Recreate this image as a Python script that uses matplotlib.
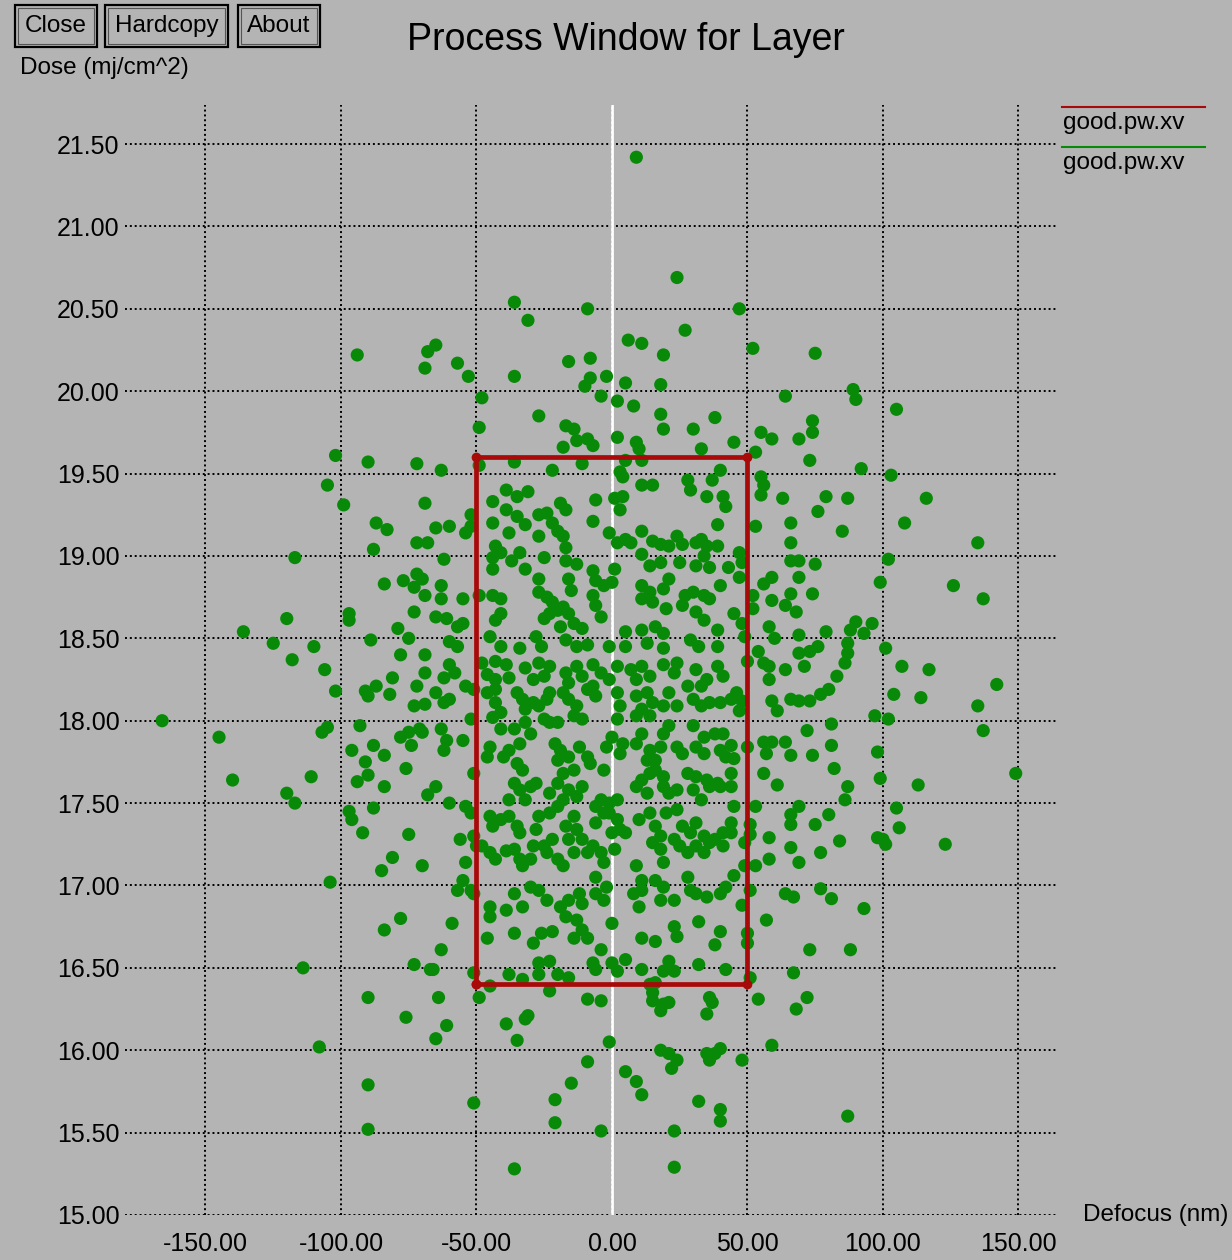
import numpy as np
import matplotlib
matplotlib.use("Agg")
import matplotlib.pyplot as plt
from matplotlib.patches import Rectangle
from matplotlib.lines import Line2D

plt.rcParams['font.family'] = ['Liberation Sans', 'DejaVu Sans']

# ----------------------------------------------------------------------
#  Data (defocus nm, dose mj/cm^2)
# ----------------------------------------------------------------------
title = "Process Window for Layer"
x_label = "Defocus (nm)"
y_label = "Dose (mj/cm^2)"
buttons = ["Close", "Hardcopy", "About"]
series_names = ["good.pw.xv", "good.pw.xv"]
x_ticks = [-150, -100, -50, 0, 50, 100, 150]
y_ticks = [15.0, 15.5, 16.0, 16.5, 17.0, 17.5, 18.0, 18.5, 19.0, 19.5, 20.0, 20.5, 21.0, 21.5]
window_defocus = [-50, 50, 50, -50, -50]
window_dose = [16.4, 16.4, 19.6, 19.6, 16.4]

top_pts = [(-94, 20.22), (-68, 20.24), (-69, 20.14), (9, 21.42), (24, 20.69), (-36, 20.54),
           (-31, 20.43), (-9, 20.50), (27, 20.37), (6, 20.31), (11, 20.29), (19, 20.22),
           (-16, 20.18), (-8, 20.20), (-8, 20.08), (-10, 20.03), (-2, 20.09), (5, 20.05),
           (18, 20.04), (-57, 20.17), (-53, 20.09), (-36, 20.09), (-65, 20.28), (-48, 19.96),
           (-4, 19.97), (2, 19.94), (47, 20.50), (52, 20.26), (75, 20.23), (64, 19.97),
           (89, 20.01), (90, 19.95)]

upper_left = [(-102, 19.61), (-90, 19.57), (-72, 19.56), (-105, 19.43), (-99, 19.31), (-69, 19.32),
              (-87, 19.20), (-83, 19.16), (-72, 19.08), (-68, 19.08), (-88, 19.04), (-117, 18.99),
              (-72, 18.89), (-70, 18.86), (-77, 18.85), (-73, 18.81), (-69, 18.76), (-84, 18.83),
              (-97, 18.65), (-97, 18.61), (-73, 18.66), (-79, 18.56), (-75, 18.50), (-89, 18.49),
              (-120, 18.62), (-136, 18.54), (-125, 18.47), (-110, 18.45), (-118, 18.37),
              (-78, 18.40), (-69, 18.40)]

upper_mid = [(-49, 19.78), (-27, 19.85), (-17, 19.79), (-14, 19.77), (-13, 19.70), (-9, 19.71),
             (-7, 19.67), (-18, 19.66), (8, 19.91), (2, 19.72), (18, 19.86), (19, 19.77),
             (30, 19.77), (38, 19.84), (9, 19.69), (10, 19.65), (11, 19.58), (33, 19.65),
             (-36, 19.57), (-22, 19.52), (-11, 19.56), (5, 19.58), (3, 19.51), (4, 19.48),
             (-63, 19.52), (-49, 19.55), (11, 19.43), (15, 19.43), (28, 19.46), (29, 19.40),
             (40, 19.52), (37, 19.46), (35, 19.36), (41, 19.36), (42, 19.30), (-39, 19.40),
             (-35, 19.36), (-31, 19.39), (-44, 19.33), (-6, 19.34), (1, 19.35), (3, 19.28),
             (4, 19.36), (-39, 19.28), (-35, 19.24), (-32, 19.19), (-27, 19.25), (-24, 19.26),
             (-19, 19.32), (-17, 19.28), (-22, 19.20), (-20, 19.15), (-18, 19.12), (-7, 19.21),
             (-44, 19.20), (-52, 19.25), (-54, 19.14), (-52, 19.18), (-60, 19.18), (-65, 19.17),
             (-38, 19.14), (-27, 19.12), (-1, 19.14), (2, 19.08), (5, 19.10), (7, 19.08),
             (11, 19.15), (15, 19.09), (18, 19.07), (21, 19.06), (24, 19.12), (26, 19.07),
             (31, 19.08), (33, 19.10), (35, 19.06), (39, 19.19), (39, 19.06), (-43, 19.06),
             (-41, 19.02), (-44, 18.99), (-44, 18.92), (-34, 19.02), (-37, 18.97), (-25, 18.99),
             (-17, 19.05), (-17, 18.97), (-13, 18.95), (-7, 18.91), (1, 18.92), (-32, 18.92),
             (-27, 18.86), (-62, 18.98), (11, 19.01), (14, 18.94), (18, 18.96), (25, 18.96),
             (34, 19.00), (31, 18.94), (36, 18.93), (43, 18.93), (40, 18.82), (-16, 18.86),
             (-15, 18.79), (-6, 18.85), (-3, 18.82), (0, 18.84), (-7, 18.76), (-6, 18.70),
             (-4, 18.63), (11, 18.82), (14, 18.78), (11, 18.74), (15, 18.72), (21, 18.86),
             (19, 18.80), (27, 18.76), (30, 18.78), (34, 18.76), (36, 18.74), (26, 18.70),
             (31, 18.66), (34, 18.61), (20, 18.68), (-63, 18.82), (-63, 18.74), (-55, 18.74),
             (-49, 18.76), (-44, 18.76), (-41, 18.74), (-27, 18.78), (-24, 18.75), (-22, 18.72),
             (-20, 18.67), (-23, 18.65), (-18, 18.69), (-16, 18.65), (-41, 18.65), (-43, 18.61),
             (-65, 18.63), (-61, 18.62), (-57, 18.57), (-55, 18.59), (-25, 18.62), (-19, 18.57),
             (-14, 18.59), (-11, 18.56), (5, 18.54), (5, 18.45), (11, 18.55), (16, 18.57),
             (19, 18.53), (39, 18.55), (-45, 18.51), (-41, 18.45), (-34, 18.44), (-28, 18.51),
             (-26, 18.45), (-17, 18.49), (-13, 18.45), (-9, 18.46), (-1, 18.45), (13, 18.47),
             (19, 18.44), (29, 18.49), (32, 18.45), (39, 18.45), (-60, 18.48), (-57, 18.45)]

upper_right = [(105, 19.89), (74, 19.82), (74, 19.75), (55, 19.75), (59, 19.71), (69, 19.71),
               (45, 19.69), (53, 19.63), (73, 19.58), (92, 19.53), (103, 19.49), (55, 19.48),
               (56, 19.43), (55, 19.37), (63, 19.35), (79, 19.36), (87, 19.35), (76, 19.27),
               (116, 19.35), (108, 19.20), (66, 19.20), (85, 19.15), (53, 19.18), (66, 19.08),
               (135, 19.08), (47, 19.02), (48, 18.96), (47, 18.87), (66, 18.97), (69, 18.97),
               (75, 18.95), (102, 18.98), (59, 18.87), (56, 18.83), (69, 18.87), (99, 18.84),
               (126, 18.82), (137, 18.74), (52, 18.76), (52, 18.68), (59, 18.73), (66, 18.77),
               (64, 18.70), (68, 18.66), (74, 18.77), (45, 18.65), (48, 18.59), (49, 18.51),
               (58, 18.57), (60, 18.50), (69, 18.52), (79, 18.54), (88, 18.55), (90, 18.60),
               (93, 18.53), (96, 18.59), (87, 18.47), (87, 18.41), (101, 18.44), (69, 18.41),
               (73, 18.42), (76, 18.45), (54, 18.42)]

middle_left = [(-166, 18.00), (-145, 17.90), (-140, 17.64), (-120, 17.56), (-117, 17.50),
               (-111, 17.66), (-107, 17.93), (-105, 17.96), (-104, 17.02), (-106, 18.31),
               (-102, 18.18), (-91, 18.18), (-87, 18.21), (-90, 18.15), (-81, 18.26), (-82, 18.16),
               (-72, 18.21), (-73, 18.09), (-69, 18.10), (-69, 18.29), (-93, 17.97), (-71, 17.95),
               (-75, 17.93), (-78, 17.90), (-74, 17.85), (-70, 17.93), (-96, 17.82), (-88, 17.85),
               (-84, 17.79), (-91, 17.75), (-90, 17.67), (-94, 17.63), (-76, 17.71), (-84, 17.60),
               (-68, 17.55), (-97, 17.45), (-96, 17.40), (-88, 17.47), (-92, 17.32), (-75, 17.31),
               (-81, 17.17), (-85, 17.09), (-70, 17.12), (-78, 16.80)]

middle_mid = [(-60, 18.34), (-58, 18.29), (-62, 18.26), (-48, 18.35), (-43, 18.36), (-39, 18.34),
              (-46, 18.28), (-43, 18.25), (-38, 18.26), (-32, 18.32), (-27, 18.35), (-23, 18.33),
              (-29, 18.25), (-25, 18.27), (-17, 18.29), (-13, 18.33), (-11, 18.27), (-7, 18.34),
              (-4, 18.29), (-16, 18.23), (2, 18.33), (-1, 18.25), (7, 18.31), (11, 18.33),
              (9, 18.25), (14, 18.27), (19, 18.34), (23, 18.29), (24, 18.35), (31, 18.31),
              (35, 18.25), (33, 18.21), (39, 18.33), (41, 18.27), (-65, 18.17), (-60, 18.13),
              (-62, 18.11), (-54, 18.21), (-51, 18.19), (-46, 18.17), (-43, 18.19), (-43, 18.11),
              (-41, 18.05), (-44, 18.02), (-35, 18.17), (-33, 18.13), (-29, 18.11), (-32, 18.07),
              (-27, 18.09), (-24, 18.13), (-23, 18.17), (-18, 18.17), (-16, 18.13), (-13, 18.09),
              (-14, 18.03), (-11, 18.01), (-9, 18.19), (-7, 18.21), (-6, 18.15), (2, 18.17),
              (3, 18.09), (2, 18.01), (9, 18.15), (13, 18.17), (15, 18.11), (11, 18.07),
              (9, 18.03), (14, 18.03), (19, 18.09), (21, 18.17), (24, 18.09), (30, 18.13),
              (33, 18.09), (36, 18.11), (40, 18.11), (44, 18.13), (28, 18.21), (-52, 18.01),
              (-63, 17.95), (-61, 17.88), (-55, 17.88), (-62, 17.82), (-41, 17.95), (-36, 17.95),
              (-32, 17.99), (-30, 17.92), (-34, 17.86), (-38, 17.82), (-40, 17.78), (-45, 17.84),
              (-46, 17.78), (-20, 17.99), (-23, 17.99), (-25, 18.01), (-21, 17.86), (-19, 17.82),
              (-20, 17.76), (-16, 17.78), (-9, 17.78), (-8, 17.74), (-12, 17.84), (-2, 17.84),
              (0, 17.90), (4, 17.86), (3, 17.80), (9, 17.86), (11, 17.92), (14, 17.82),
              (18, 17.84), (16, 17.76), (13, 17.76), (19, 17.92), (21, 17.97), (24, 17.84),
              (26, 17.80), (30, 17.97), (34, 17.90), (38, 17.92), (41, 17.92), (31, 17.84),
              (34, 17.80), (40, 17.82), (42, 17.78), (-51, 17.68), (-65, 17.60), (-35, 17.74),
              (-33, 17.70), (-36, 17.62), (-34, 17.58), (-30, 17.60), (-32, 17.52), (-38, 17.52),
              (-28, 17.62), (-23, 17.56), (-20, 17.62), (-18, 17.68), (-14, 17.70), (-16, 17.58),
              (-13, 17.54), (-11, 17.60), (-3, 17.70), (-4, 17.52), (-1, 17.50), (2, 17.52),
              (9, 17.60), (11, 17.64), (14, 17.68), (13, 17.56), (16, 17.70), (19, 17.66),
              (19, 17.60), (21, 17.56), (24, 17.58), (28, 17.68), (31, 17.66), (35, 17.64),
              (39, 17.62), (30, 17.58), (33, 17.52), (36, 17.60), (40, 17.60), (44, 17.60),
              (-60, 17.50), (-54, 17.48), (-52, 17.44), (-45, 17.42), (-41, 17.40), (-38, 17.42),
              (-35, 17.36), (-34, 17.32), (-44, 17.36), (-27, 17.42), (-28, 17.34), (-23, 17.44),
              (-20, 17.48), (-18, 17.52), (-17, 17.36), (-14, 17.42), (-13, 17.34), (-16, 17.28),
              (-6, 17.48), (-3, 17.44), (-6, 17.38), (-1, 17.44), (2, 17.40), (3, 17.34),
              (5, 17.32), (0, 17.32), (10, 17.40), (14, 17.44), (16, 17.36), (20, 17.44),
              (24, 17.46), (18, 17.30), (26, 17.36), (29, 17.32), (31, 17.38), (34, 17.30),
              (38, 17.28), (41, 17.32), (44, 17.38), (-56, 17.28), (-51, 17.30), (-50, 17.24),
              (-48, 17.24), (-45, 17.20), (-43, 17.16), (-39, 17.21), (-36, 17.22), (-34, 17.16),
              (-33, 17.12), (-30, 17.16), (-29, 17.24), (-25, 17.24), (-24, 17.20), (-22, 17.28),
              (-20, 17.16), (-18, 17.12), (-14, 17.20), (-11, 17.28), (-9, 17.20), (-7, 17.24),
              (-4, 17.20), (-3, 17.14), (1, 17.22), (9, 17.12), (11, 17.03), (15, 17.26),
              (18, 17.22), (19, 17.14), (23, 17.28), (25, 17.24), (28, 17.20), (31, 17.24),
              (34, 17.20), (36, 17.26), (41, 17.24), (-54, 17.14), (-55, 17.03), (-57, 16.97),
              (-52, 16.97), (-51, 16.95), (-45, 16.87), (-39, 16.85), (-45, 16.81), (-36, 16.95),
              (-33, 16.87), (-30, 16.99), (-27, 16.97), (-24, 16.91), (-19, 16.87), (-16, 16.91),
              (-12, 16.95), (-11, 16.89), (-17, 16.81), (-13, 16.79), (-6, 17.05), (-6, 16.95),
              (-2, 16.99), (-3, 16.91), (8, 16.95), (11, 16.97), (10, 16.87), (16, 17.03),
              (19, 16.99), (18, 16.91), (23, 16.91), (28, 17.05), (29, 16.97), (31, 16.95),
              (35, 16.93), (40, 16.95), (42, 16.99)]

middle_right = [(50, 18.36), (56, 18.35), (58, 18.33), (64, 18.31), (71, 18.33), (86, 18.35),
                (83, 18.27), (58, 18.25), (80, 18.19), (77, 18.16), (66, 18.13), (69, 18.12),
                (73, 18.12), (59, 18.12), (61, 18.06), (46, 18.17), (48, 18.12), (47, 18.06),
                (107, 18.33), (117, 18.31), (104, 18.16), (114, 18.14), (142, 18.22), (135, 18.09),
                (137, 17.94), (97, 18.03), (102, 18.01), (81, 17.98), (72, 17.94), (56, 17.87),
                (59, 17.87), (64, 17.87), (57, 17.80), (66, 17.79), (50, 17.84), (44, 17.85),
                (45, 17.77), (81, 17.85), (74, 17.79), (98, 17.81), (82, 17.71), (56, 17.68),
                (61, 17.61), (99, 17.65), (113, 17.61), (149, 17.68), (87, 17.60), (86, 17.52),
                (44, 17.68), (45, 17.48), (44, 17.32), (53, 17.48), (69, 17.48), (66, 17.43),
                (66, 17.37), (80, 17.43), (75, 17.37), (105, 17.47), (106, 17.35), (51, 17.37),
                (51, 17.31), (49, 17.26), (58, 17.29), (84, 17.27), (98, 17.29), (100, 17.28),
                (101, 17.25), (123, 17.25), (66, 17.23), (77, 17.20), (58, 17.16), (69, 17.14),
                (49, 17.12), (53, 17.12), (45, 17.06), (51, 16.97), (77, 16.98), (64, 16.95),
                (67, 16.93), (81, 16.92), (93, 16.86), (48, 16.88), (57, 16.79)]

lower_left = [(-84, 16.73), (-114, 16.50), (-73, 16.52), (-67, 16.49), (-90, 16.32), (-76, 16.20),
              (-108, 16.02), (-90, 15.79), (-90, 15.52)]

lower_mid = [(-59, 16.77), (-46, 16.68), (-36, 16.71), (-29, 16.65), (-26, 16.71), (-22, 16.72),
             (-14, 16.68), (-11, 16.73), (-9, 16.68), (-4, 16.61), (0, 16.77), (11, 16.68),
             (16, 16.66), (23, 16.75), (24, 16.69), (32, 16.78), (40, 16.72), (38, 16.64),
             (-63, 16.61), (-66, 16.49), (-51, 16.47), (-45, 16.39), (-49, 16.32), (-38, 16.46),
             (-33, 16.43), (-27, 16.53), (-23, 16.54), (-27, 16.46), (-20, 16.46), (-16, 16.44),
             (-23, 16.36), (-7, 16.53), (-6, 16.49), (0, 16.53), (2, 16.48), (5, 16.55),
             (11, 16.49), (19, 16.48), (21, 16.54), (23, 16.48), (32, 16.52), (42, 16.49),
             (14, 16.40), (16, 16.41), (15, 16.35), (15, 16.30), (19, 16.28), (21, 16.29),
             (18, 16.24), (36, 16.32), (37, 16.29), (35, 16.22), (-9, 16.31), (-4, 16.30),
             (-64, 16.32), (-61, 16.15), (-65, 16.07), (-39, 16.16), (-32, 16.19), (-31, 16.21),
             (-35, 16.06), (-1, 16.05), (18, 16.00), (21, 15.98), (24, 15.94), (22, 15.89),
             (36, 15.94), (38, 15.98), (40, 16.01), (35, 15.98), (-9, 15.93), (5, 15.87),
             (9, 15.81), (11, 15.73), (-15, 15.80), (-21, 15.70), (-51, 15.68), (-21, 15.56),
             (-4, 15.51), (32, 15.69), (40, 15.64), (40, 15.57), (23, 15.51), (-36, 15.28),
             (23, 15.29)]

lower_right = [(50, 16.71), (50, 16.65), (73, 16.61), (88, 16.61), (67, 16.47), (51, 16.44),
               (54, 16.31), (72, 16.32), (68, 16.25), (59, 16.03), (48, 15.94), (87, 15.60)]

# ----------------------------------------------------------------------
#  Plot
# ----------------------------------------------------------------------
W, H = 1232, 1260
bg = '#b4b4b4'
green = '#088a08'
red = '#a80a0a'


def fx(px):
	return px / W


def fy(py):
	return 1 - py / H


points = np.array(top_pts + upper_left + upper_mid + upper_right + middle_left
                  + middle_mid + middle_right + lower_left + lower_mid + lower_right)

fig = plt.figure(figsize=(W / 100, H / 100), dpi=100, facecolor=bg)
ax = fig.add_axes([fx(125), fy(1215), fx(1058) - fx(125), fy(105) - fy(1215)])
ax.set_facecolor(bg)
ax.set_xlim(-179.7, 164.6)
ax.set_ylim(15.0, 21.737)
for s in ax.spines.values():
	s.set_visible(False)

ax.set_xticks(x_ticks)
ax.set_xticklabels(["%.2f" % v for v in x_ticks])
ax.set_yticks(y_ticks)
ax.set_yticklabels(["%.2f" % v for v in y_ticks])
ax.tick_params(axis='both', length=0, labelsize=18, colors='black')
ax.tick_params(axis='x', pad=12)
ax.tick_params(axis='y', pad=4)
ax.set_axisbelow(True)
ax.grid(True, color='black', linestyle=(0, (1, 1.5)), linewidth=1.4)

ax.axvline(0, color='white', lw=2, zorder=1.5)
ax.scatter(points[:, 0], points[:, 1], s=90, color=green, edgecolors='none', zorder=3)
ax.plot(window_defocus, window_dose, color=red, lw=3.4, marker='o', ms=6, zorder=4,
        solid_joinstyle='round')

# title and axis labels
fig.text(fx(626), fy(40), title, ha='center', va='center', fontsize=27)
fig.text(fx(20), fy(68), y_label, ha='left', va='center', fontsize=17.5)
fig.text(fx(1083), fy(1215), x_label, ha='left', va='center', fontsize=17.5)

# legend at top right
for i, (name, c) in enumerate(zip(series_names, [red, green])):
	ly = 107 + 40 * i
	fig.add_artist(Line2D([fx(1062), fx(1205)], [fy(ly), fy(ly)], color=c, lw=1.5))
	fig.text(fx(1063), fy(ly + 16), name, ha='left', va='center', fontsize=17.5)

# buttons
button_boxes = [(15, 97), (105, 228), (238, 320)]
for label, (x0, x1) in zip(buttons, button_boxes):
	fig.add_artist(Rectangle((fx(x0), fy(47)), fx(x1) - fx(x0), fy(5) - fy(47),
	                         transform=fig.transFigure, facecolor=bg, edgecolor='black', lw=1.6))
	fig.add_artist(Rectangle((fx(x0 + 3), fy(44)), fx(x1 - 3) - fx(x0 + 3), fy(8) - fy(44),
	                         transform=fig.transFigure, facecolor='none', edgecolor='#555555', lw=0.8))
	fig.text(fx((x0 + x1) / 2), fy(26), label, ha='center', va='center', fontsize=17.5)

fig.savefig("out.png", dpi=100, facecolor=bg)
